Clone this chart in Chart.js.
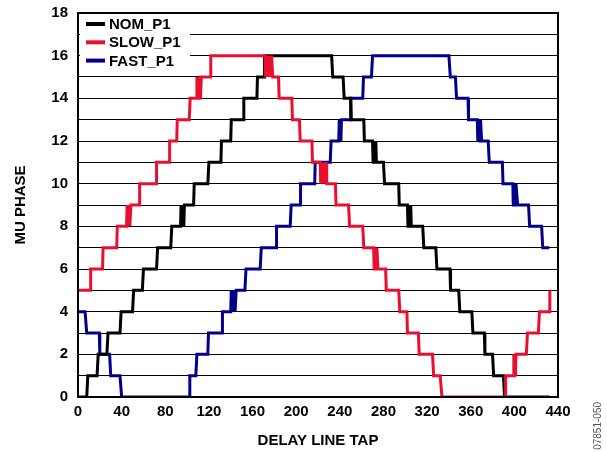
<!DOCTYPE html>
<html>
<head>
<meta charset="utf-8">
<script src="https://cdn.jsdelivr.net/npm/chart.js@4/dist/chart.umd.min.js"></script>
<style>
  html,body{margin:0;padding:0;background:#fff;}
  #wrap{width:607px;height:452px;position:relative;}
</style>
</head>
<body>
<div id="wrap"><canvas id="chart" width="607" height="452"></canvas></div>
<script>
// corner points of each step trace (x = delay line tap, y = MU phase)
const nomX = [0,8,9,17.5,18.5,26.5,27.5,38.5,39.5,50,51,59,60,72,73,85,86,94,94.5,95,95.5,96,96.5,97,97.5,106,106.5,119,120,131,131.5,140,140.5,151.5,152,164,164.5,170.5,171,232.5,233.5,243,244,250,250.5,262,262.5,270,270.5,271,271.5,272,272.5,273,273.5,280,281,294,294.5,302,302.5,303,303.5,304,304.5,305,305.5,316,317,328,329,341,341.5,349,350,361,362,372.5,373,380,381,390,391,432];
const nomY = [0,0,1,1,2,2,3,3,4,4,5,5,6,6,7,7,8,8,9,8,9,8,9,8,9,9,10,10,11,11,12,12,13,13,14,14,15,15,16,16,15,15,14,14,13,13,12,12,11,12,11,12,11,12,11,11,10,10,9,9,8,9,8,9,8,9,8,8,7,7,6,6,5,5,4,4,3,3,2,2,1,1,0,0];

const slowX = [0,11,11.6,22.5,23,35.5,36,44.5,45,45.5,46,46.5,47,47.5,48.5,56,56.5,71.5,72,83.5,84,90.5,91,102,102.8,108.5,109,109.7,110.4,111,111.7,112.3,113,121,121.7,171.5,172,173,174,175,176.5,177.5,178.5,183.8,184.4,196,196.6,203,203.7,214.4,215,222,222.5,223.5,224.5,225.5,226.5,227.5,228,236,236.5,248,249,261,262,271,271.5,272,272.5,273,273.5,274,275,282,282.6,294,295,301.5,302,312,312.8,325,326,332,333.6,391.7,392,399,399.5,400,400.5,401,401.5,411,412,422,423,432,432.5];
const slowY = [5,5,6,6,7,7,8,8,9,8,9,8,9,8,9,9,10,10,11,11,12,12,13,13,14,14,15,14,15,14,15,14,15,15,16,16,15,16,15,16,15,16,15,15,14,14,13,13,12,12,11,11,10,11,10,11,10,11,10,10,9,9,8,8,7,7,6,7,6,7,6,7,6,6,5,5,4,4,3,3,2,2,1,1,0,0,1,1,2,1,2,1,2,2,3,3,4,4,5];

const fastX = [0,6.5,8,19.5,20,29,30,38.5,40,102,102.5,108,109,119,119.6,132,132.4,140,140.5,141,141.5,142.5,143,144,145,153,154,167,168,181.6,182,194.5,195.4,203.7,204,217,217.4,231.2,232,239,239.5,240,240.5,241,241.5,249.5,250,261,261.7,269,270,340,341.3,346,347,357.5,358,366,366.5,367,367.5,368,368.5,369,370,376,377,389,389.6,398.6,399,399.5,400,400.5,401,401.5,403,413,414,425,426,432];
const fastY = [4,4,3,3,2,2,1,1,0,0,1,1,2,2,3,3,4,4,5,4,5,4,5,4,5,5,6,6,7,7,8,8,9,9,10,10,11,11,12,12,13,12,13,12,13,13,14,14,15,15,16,16,15,15,14,14,13,13,12,13,12,13,12,13,12,12,11,11,10,10,9,10,9,10,9,10,9,9,8,8,7,7];

const seriesNames = ['NOM_P1','SLOW_P1','FAST_P1'];
const seriesColors = ['#000000','#e8102e','#00008b'];
const drawOrder = [1,0,2]; // red sits on top where traces touch

const xTicks = [0,40,80,120,160,200,240,280,320,360,400,440];
const yMax = 18;

const FONT = 'Liberation Sans, Arial, Helvetica, sans-serif';

function pts(xs, ys){ return xs.map((x,i)=>({x:x, y:ys[i]})); }

// legend box sits inside the plot, top-left, over the grid lines
const insideLegend = {
  id:'insideLegend',
  afterDatasetsDraw(chart){
    const ctx = chart.ctx, a = chart.chartArea;
    ctx.save();
    ctx.fillStyle = '#fff';
    ctx.fillRect(a.left+2, a.top+2, 110, 56);
    ctx.font = 'bold 15px '+FONT;
    ctx.textBaseline = 'middle';
    chart.data.datasets.forEach((ds,i)=>{
      const y = a.top + 11 + i*18.3;
      ctx.strokeStyle = ds.borderColor;
      ctx.lineWidth = 4;
      ctx.beginPath(); ctx.moveTo(a.left+8, y); ctx.lineTo(a.left+27, y); ctx.stroke();
      ctx.fillStyle = '#000';
      ctx.fillText(ds.label, a.left+31, y+1);
    });
    ctx.restore();
  }
};

const frame = {
  id:'frame',
  afterDraw(chart){
    const ctx = chart.ctx, a = chart.chartArea;
    ctx.save();
    ctx.strokeStyle = '#000';
    ctx.lineWidth = 2;
    ctx.strokeRect(a.left, a.top, a.right-a.left, a.bottom-a.top);
    // figure number, rotated at the right edge
    ctx.translate(598, 402);
    ctx.rotate(-Math.PI/2);
    ctx.font = '10px '+FONT;
    ctx.fillStyle = '#555';
    ctx.textAlign = 'right';
    ctx.textBaseline = 'middle';
    ctx.fillText('07851-050', 0, 0);
    ctx.restore();
  }
};

const datasets = [
  {label:seriesNames[0], data:pts(nomX,nomY), borderColor:seriesColors[0], order:drawOrder[0]},
  {label:seriesNames[1], data:pts(slowX,slowY), borderColor:seriesColors[1], order:drawOrder[1]},
  {label:seriesNames[2], data:pts(fastX,fastY), borderColor:seriesColors[2], order:drawOrder[2]}
].map(d=>Object.assign(d,{borderWidth:3, pointRadius:0, tension:0, fill:false, borderJoinStyle:'miter'}));

new Chart(document.getElementById('chart').getContext('2d'), {
  type:'line',
  data:{datasets},
  options:{
    responsive:false, animation:false,
    layout:{padding:{left:0, right:49, top:13, bottom:0}},
    plugins:{legend:{display:false}, tooltip:{enabled:false}},
    scales:{
      x:{
        type:'linear', min:0, max:440,
        afterBuildTicks(s){ s.ticks = xTicks.map(v=>({value:v})); },
        afterFit(s){ s.height = 55; s.paddingLeft = 0; s.paddingRight = 0; },
        grid:{display:false, drawTicks:false},
        border:{display:false},
        ticks:{color:'#000', padding:6, font:{family:FONT, size:15, weight:'bold'}, maxRotation:0},
        title:{display:true, text:'DELAY LINE TAP', color:'#000', padding:{top:0,bottom:2}, font:{family:FONT, size:15, weight:'bold'}}
      },
      y:{
        min:0, max:yMax,
        afterFit(s){ s.width = 78; s.paddingTop = 0; s.paddingBottom = 0; },
        ticks:{stepSize:1, color:'#000', padding:10, font:{family:FONT, size:15, weight:'bold'},
          callback:v=>(v%2===0 ? v : '')},
        grid:{color:'#000', lineWidth:1, drawTicks:false},
        border:{display:false},
        title:{display:true, text:'MU PHASE', color:'#000', padding:{top:12,bottom:0}, font:{family:FONT, size:15, weight:'bold'}}
      }
    }
  },
  plugins:[insideLegend, frame]
});
</script>
</body>
</html>
